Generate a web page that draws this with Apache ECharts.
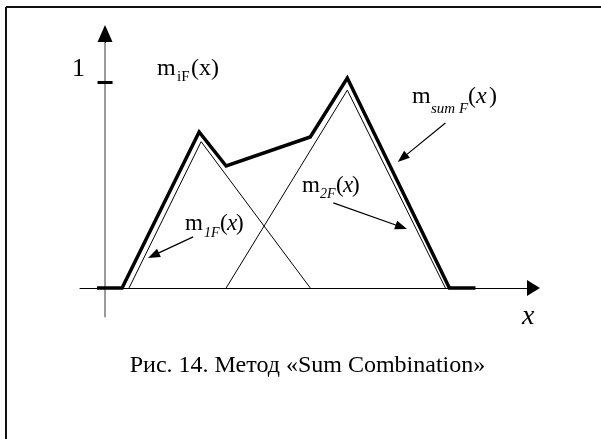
<!DOCTYPE html>
<html>
<head>
<meta charset="utf-8">
<script src="https://cdn.jsdelivr.net/npm/echarts@6/dist/echarts.min.js"></script>
<style>
  html, body { margin: 0; padding: 0; background: #fff; }
  #chart { width: 601px; height: 439px; }
</style>
</head>
<body>
<div id="chart"></div>
<script>
// Membership functions (x in arbitrary units, y = degree of membership)
const m1X = [2.4, 9.6, 20.5];
const m1Y = [0, 0.71, 0];
const m2X = [12.1, 24.2, 34.0];
const m2Y = [0, 0.96, 0];
// Resulting "sum" combination outline
const sumX = [-0.8, 1.7, 9.4, 12.1, 20.5, 24.2, 34.4, 37.0];
const sumY = [0, 0, 0.757, 0.592, 0.733, 1.019, 0, 0];
// Y axis tick values that carry a label
const yTickValues = [1];
// Axis ranges
const xRange = [-2.5, 42.8];
const yRange = [-0.14, 1.235];
// Pointer arrows from the labels to the curves: [from, to]
const pointerFrom = [[8.8, 0.248], [22.8, 0.413], [34.0, 0.801]];
const pointerTo = [[4.84, 0.158], [29.6, 0.296], [29.7, 0.630]];

const pairs = (xs, ys) => xs.map((x, i) => [x, ys[i]]);
const FONT = '"Liberation Serif", "Times New Roman", serif';

function txt(str, x, base, size, italic) {
  return {
    type: 'text',
    x: x,
    y: base - 0.3375 * size,
    silent: true,
    style: {
      text: str,
      font: (italic ? 'italic ' : '') + size + 'px ' + FONT,
      fill: '#000',
      textAlign: 'left',
      verticalAlign: 'middle'
    }
  };
}

const chart = echarts.init(document.getElementById('chart'), null, { renderer: 'canvas' });

const option = {
  animation: false,
  backgroundColor: '#fff',
  grid: { left: 80, right: 67.5, top: 33.5, bottom: 122.2, containLabel: false },
  xAxis: {
    type: 'value',
    min: xRange[0],
    max: xRange[1],
    axisLine: {
      show: true,
      onZero: true,
      symbol: ['none', 'triangle'],
      symbolSize: [16, 13],
      lineStyle: { color: '#000', width: 1 }
    },
    axisTick: { show: false },
    axisLabel: { show: false },
    splitLine: { show: false }
  },
  yAxis: {
    type: 'value',
    min: yRange[0],
    max: yRange[1],
    axisLine: {
      show: true,
      onZero: true,
      lineStyle: { color: '#7a7a7a', width: 1.5 }
    },
    axisTick: { show: false },
    axisLabel: {
      show: true,
      customValues: yTickValues,
      margin: -5,
      fontSize: 26,
      lineHeight: 26,
      fontFamily: FONT,
      color: '#000',
      verticalAlign: 'bottom'
    },
    splitLine: { show: false }
  },
  series: [
    {
      name: 'm1F',
      type: 'line',
      data: pairs(m1X, m1Y),
      showSymbol: false,
      symbol: 'none',
      silent: true,
      clip: false,
      lineStyle: { color: '#000', width: 1, join: 'miter' },
      z: 2,
      markLine: {
        // arrow head of the y axis
        silent: true,
        symbol: ['none', 'triangle'],
        symbolSize: [15, 17],
        label: { show: false },
        lineStyle: { color: '#000', width: 1, type: 'solid' },
        data: [
          [{ coord: [0, yRange[1] - 0.045] }, { coord: [0, yRange[1]] }]
        ]
      }
    },
    {
      name: 'm2F',
      type: 'line',
      data: pairs(m2X, m2Y),
      showSymbol: false,
      symbol: 'none',
      silent: true,
      clip: false,
      lineStyle: { color: '#000', width: 1, join: 'miter' },
      z: 2,
      markLine: {
        // tick marks crossing the y axis
        silent: true,
        symbol: ['none', 'none'],
        label: { show: false },
        lineStyle: { color: '#000', width: 3, type: 'solid' },
        data: yTickValues.map(v => [{ coord: [-0.75, v] }, { coord: [0.75, v] }])
      }
    },
    {
      name: 'msumF',
      type: 'line',
      data: pairs(sumX, sumY),
      showSymbol: false,
      symbol: 'none',
      silent: true,
      clip: false,
      lineStyle: { color: '#000', width: 3.5, join: 'miter', miterLimit: 10 },
      z: 3,
      markLine: {
        silent: true,
        symbol: ['none', 'triangle'],
        symbolSize: [9, 12],
        label: { show: false },
        lineStyle: { color: '#000', width: 1.2, type: 'solid' },
        data: pointerFrom.map((p, i) => [{ coord: p }, { coord: pointerTo[i] }])
      }
    }
  ],
  graphic: [
    // frame
    { type: 'line', silent: true, shape: { x1: 6, y1: 7, x2: 601, y2: 7 }, style: { stroke: '#111', lineWidth: 2 } },
    { type: 'line', silent: true, shape: { x1: 6, y1: 7, x2: 6, y2: 439 }, style: { stroke: '#111', lineWidth: 2 } },
    // m_iF(x)
    txt('m', 157, 77, 24, false),
    txt('iF', 177, 82, 15, false),
    txt('(x)', 191, 77, 24, false),
    // m_sum F(x)
    txt('m', 412, 105, 24, false),
    txt('sum F', 431, 114, 15, true),
    txt('(', 468, 105, 24, false),
    txt('x', 476, 105, 24, true),
    txt(')', 489, 105, 24, false),
    // m_2F(x)
    txt('m', 302, 194, 23, false),
    txt('2F', 320, 199, 14, true),
    txt('(', 336, 194, 23, false),
    txt('x', 343, 194, 23, true),
    txt(')', 352, 194, 23, false),
    // m_1F(x)
    txt('m', 185, 232, 23, false),
    txt('1F', 204, 238, 14, true),
    txt('(', 220, 232, 23, false),
    txt('x', 227, 232, 23, true),
    txt(')', 236, 232, 23, false),
    // axis name
    txt('x', 522, 326, 28, true),
    // caption
    {
      type: 'text',
      x: 307.5,
      y: 374 - 0.3375 * 24,
      silent: true,
      style: {
        text: 'Рис. 14. Метод «Sum Combination»',
        font: '24px ' + FONT,
        fill: '#000',
        textAlign: 'center',
        verticalAlign: 'middle'
      }
    }
  ]
};

chart.setOption(option);
</script>
</body>
</html>
